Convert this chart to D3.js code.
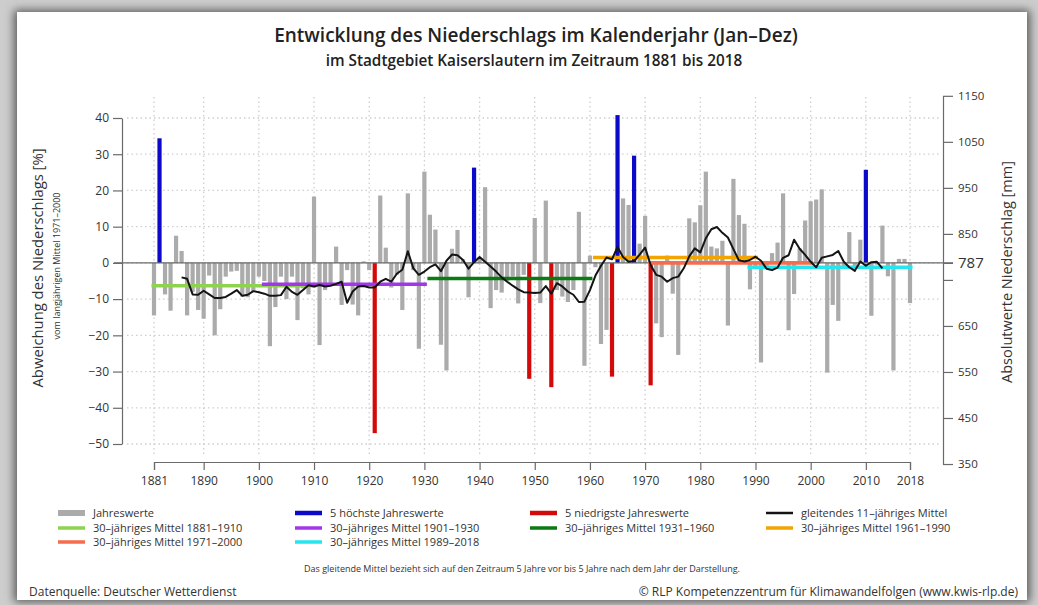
<!DOCTYPE html>
<html><head><meta charset="utf-8">
<script src="https://cdn.jsdelivr.net/npm/d3@7"></script>
<style>
body{margin:0;background:#fff;}
svg{display:block;font-family:'Open Sans',sans-serif;}
</style>
</head><body>
<svg id="chart" width="1038" height="605"></svg>
<script>
// ---------------- DATA ----------------
const firstYear = 1881, lastYear = 2018;
const years = d3.range(firstYear, lastYear + 1);

// Abweichung vom Mittel 1971-2000 [%], 1881..2018
const deviation = [
  -14.5, 34.4, -8.7, -13.2, 7.5, 3.3, -14.5, -8, -13, -15.4,
  -3.5, -20, -12.8, -3.8, -2.4, -2.2, -9.3, -9.5, -8, -3.8,
  -5, -23, -12.2, -3.8, -10, -3.8, -15.8, -7, -8.7, 18.3,
  -22.7, -7.5, -6, 4.5, -11.6, -2, -11.5, -14.5, 0.4, -2,
  -47, 18.6, 4.2, -6.8, -3.3, -13, 19.2, -2, -23.7, 25.2,
  13.3, 9.2, -22.6, -29.7, 3.9, 9.1, 1, -9.5, 26.3, 1.5,
  20.9, -12.5, -7.5, -8.2, -5, -3.8, -11.2, -3.3, -32, 12.4,
  -11.1, 17.2, -34.3, -7.5, -9.3, -10.8, -7.5, 14.1, -28.4, 2,
  -1.2, -22.4, -18.5, -31.4, 40.8, 17.8, 16, 29.6, 5.3, 13,
  -33.8, -16.7, -20.5, 2, -8.5, -25.4, 0.5, 12.3, 11.2, 15.9,
  25.2, 4.5, 4, 6.1, -17.3, 23.2, 13.2, 10.8, -7.3, -1,
  -27.5, -1.5, 2.7, 5.6, 19.2, -18.6, -8.6, 4, 11.7, 17,
  17.5, 20.3, -30.3, -11.6, -16, -1, 8.5, -1.5, 6.4, 25.7,
  -14.6, -0.5, 10.3, -3.7, -29.7, 1.1, 1.1, -11.1
];

const highestYears = [1882, 1939, 1965, 1968, 2010];
const lowestYears  = [1921, 1949, 1953, 1964, 1971];

// gleitendes 11-jähriges Mittel, 1886..2013
const maStart = 1886;
const movingAvg = [
  -4.0, -4.4, -8.7, -8.8, -7.7, -8.7, -9.7, -9.7, -9.4, -8.5,
  -7.5, -9.1, -8.8, -7.8, -8.1, -8.5, -9.1, -9.1, -8.9, -6.6,
  -8.0, -8.8, -7.5, -6.2, -6.5, -6.1, -6.5, -6.3, -5.8, -5.2,
  -11.0, -7.9, -6.5, -6.4, -6.8, -6.8, -5.2, -4.4, -5.2, -3.0,
  -1.9, 3.2, -1.5, -3.3, -2.4, -1.2, -0.4, -2.3, 0.6, 2.3,
  2.1, 0.8, -1.6, 0.2, 1.6, 0.3, -1.0, -2.4, -4.0, -5.2,
  -6.3, -7.3, -8.1, -8.2, -8.3, -8.2, -6.4, -8.5, -5.6, -6.5,
  -7.9, -8.8, -10.8, -10.7, -7.5, -3.5, -0.8, 1.5, 1.0, 4.4,
  1.6, 0.3, 0.5, 2.3, 4.2, -0.6, -3.3, -3.8, -5.2, -4.2,
  -3.8, -1.5, 1.8, 4.0, 2.9, 6.8, 9.3, 9.9, 8.3, 7.0,
  3.8, 0.7, 0.4, 0.8, 1.7, 0.6, -1.6, -2.0, -1.3, 1.4,
  2.1, 6.4, 3.9, 2.2, 0.3, -1.2, 1.4, 1.8, 2.2, 3.3,
  0.3, -1.2, -2.2, 0.4, -0.8, 0.2, 0.3, -1.5
];

// 30-jährige Mittel
const periodStart = [1881, 1901, 1931, 1961, 1971, 1989];
const periodEnd   = [1910, 1930, 1960, 1990, 2000, 2018];
const periodMean  = [-6.3, -5.9, -4.3, 1.5, 0, -1.2];

const xTickYears = [1881, 1890, 1900, 1910, 1920, 1930, 1940, 1950, 1960, 1970, 1980, 1990, 2000, 2010, 2018];
const leftTicks  = [40, 30, 20, 10, 0, -10, -20, -30, -40, -50];
const rightTicks = [1150, 1050, 950, 850, 787, 750, 650, 550, 450, 350];
const refMeanMM = 787;

// ---------------- STYLE ----------------
const periodColors = ["#8ed34e", "#a236ea", "#0b7a12", "#f2a400", "#f46d4e", "#25e6ef"];
const greyBar = "#ababab", blueBar = "#0a0ac8", redBar = "#d30a0a";

const svg = d3.select("#chart");

// background / card
const defs = svg.append("defs");
const f = defs.append("filter").attr("id", "sh").attr("x", "-5%").attr("y", "-5%").attr("width", "110%").attr("height", "110%");
f.append("feGaussianBlur").attr("stdDeviation", 5);
svg.append("rect").attr("width", 1038).attr("height", 605).attr("fill", "#cdcdcd");
svg.append("rect").attr("x", 14).attr("y", 10).attr("width", 1016).attr("height", 592).attr("fill", "#5a5a5a").attr("filter", "url(#sh)");
svg.append("rect").attr("x", 17).attr("y", 12).attr("width", 1010).attr("height", 588).attr("fill", "#fff");

// scales
const x = d3.scaleLinear().domain([firstYear, lastYear]).range([154, 910]);
const y = d3.scaleLinear().domain([-50, 40]).range([444, 118]);
const pct = v => (v / refMeanMM - 1) * 100;
const yR = d3.scaleLinear().domain([350, 1150]).range([y(pct(350)), y(pct(1150))]);

// grid
const grid = svg.append("g").attr("stroke", "#cfcfcf").attr("stroke-width", 1.3).attr("stroke-dasharray", "1.5,3");
grid.selectAll("line.h").data(leftTicks).join("line")
  .attr("x1", 127).attr("x2", 940).attr("y1", d => y(d)).attr("y2", d => y(d));
grid.selectAll("line.v").data(xTickYears).join("line")
  .attr("x1", d => x(d)).attr("x2", d => x(d)).attr("y1", 97).attr("y2", 457);

// bars
const barData = years.map((yr, i) => ({ yr, v: deviation[i] }));
svg.append("g").selectAll("rect").data(barData).join("rect")
  .attr("x", d => x(d.yr) - 2.1)
  .attr("width", 4.2)
  .attr("y", d => y(Math.max(0, d.v)))
  .attr("height", d => Math.abs(y(d.v) - y(0)))
  .attr("fill", d => highestYears.includes(d.yr) ? blueBar : lowestYears.includes(d.yr) ? redBar : greyBar);

// zero line
svg.append("line").attr("x1", 114).attr("x2", 953).attr("y1", y(0)).attr("y2", y(0))
  .attr("stroke", "#6a6a6a").attr("stroke-width", 1.2);

// period means
svg.append("g").selectAll("line").data(periodStart).join("line")
  .attr("x1", (d, i) => x(periodStart[i]) - 2.5)
  .attr("x2", (d, i) => x(periodEnd[i]) + 2.5)
  .attr("y1", (d, i) => y(periodMean[i]))
  .attr("y2", (d, i) => y(periodMean[i]))
  .attr("stroke", (d, i) => periodColors[i])
  .attr("stroke-width", 3.6);

// moving average
const maData = movingAvg.map((v, i) => ({ yr: maStart + i, v }));
svg.append("path").datum(maData)
  .attr("d", d3.line().x(d => x(d.yr)).y(d => y(d.v)))
  .attr("fill", "none").attr("stroke", "#141414").attr("stroke-width", 2).attr("stroke-linejoin", "round");

// axes
const axisStyle = g => {
  g.selectAll(".domain").attr("stroke", "#6a6a6a").attr("stroke-width", 1.2);
  g.selectAll(".tick line").attr("stroke", "#6a6a6a").attr("stroke-width", 1.2);
  g.selectAll(".tick text").attr("fill", "#333").style("font-family", "'Open Sans',sans-serif");
};

const fmtMinus = d => (d < 0 ? "\u2212" + Math.abs(d) : String(d));
svg.append("g").attr("transform", "translate(122,0)")
  .call(d3.axisLeft(y).tickValues(leftTicks).tickFormat(fmtMinus).tickSize(9).tickSizeOuter(0).tickPadding(4))
  .call(axisStyle)
  .call(g => g.selectAll(".tick text").attr("font-size", 12));

svg.append("g").attr("transform", "translate(0,462)")
  .call(d3.axisBottom(x).tickValues(xTickYears).tickFormat(d3.format("d")).tickSize(8).tickSizeOuter(8).tickPadding(6))
  .call(axisStyle)
  .call(g => g.selectAll(".tick text").attr("font-size", 12));

svg.append("g").attr("transform", "translate(943,0)")
  .call(d3.axisRight(yR).tickValues(rightTicks).tickFormat(d => d === 750 ? "" : String(d)).tickSize(10).tickSizeOuter(0).tickPadding(5))
  .call(axisStyle)
  .call(g => g.selectAll(".tick text").attr("font-size", d => d === 787 ? 15 : 11.5));

// axis titles
svg.append("text").attr("transform", "translate(43,268) rotate(-90)")
  .attr("text-anchor", "middle").attr("font-size", 14.8).attr("fill", "#333")
  .text("Abweichung des Niederschlags [%]");
svg.append("text").attr("transform", "translate(60,266) rotate(-90)")
  .attr("text-anchor", "middle").attr("font-size", 9).attr("fill", "#333")
  .text("vom langjährigen Mittel 1971–2000");
svg.append("text").attr("transform", "translate(1012,272) rotate(-90)")
  .attr("text-anchor", "middle").attr("font-size", 14.5).attr("fill", "#333")
  .text("Absolutwerte Niederschlag [mm]");

// titles
svg.append("text").attr("x", 536).attr("y", 42).attr("text-anchor", "middle")
  .attr("font-size", 19).attr("font-weight", 600).attr("fill", "#222")
  .text("Entwicklung des Niederschlags im Kalenderjahr (Jan–Dez)");
svg.append("text").attr("x", 534).attr("y", 66).attr("text-anchor", "middle")
  .attr("font-size", 15.3).attr("font-weight", 600).attr("fill", "#222")
  .text("im Stadtgebiet Kaiserslautern im Zeitraum 1881 bis 2018");

// legend
const legendLabels = [
  "Jahreswerte", "5 höchste Jahreswerte", "5 niedrigste Jahreswerte", "gleitendes 11–jähriges Mittel",
  "30–jähriges Mittel 1881–1910", "30–jähriges Mittel 1901–1930", "30–jähriges Mittel 1931–1960", "30–jähriges Mittel 1961–1990",
  "30–jähriges Mittel 1971–2000", "30–jähriges Mittel 1989–2018"
];
const legendColors = [greyBar, blueBar, redBar, "#141414", ...periodColors];
const legendWidths = [6, 4.5, 4.5, 2.5, 3.5, 3.5, 3.5, 3.5, 3.5, 3.5];
const colX = [58, 295, 530, 766];
const rowY = [513, 528, 542];
const lg = svg.append("g");
legendLabels.forEach((t, i) => {
  const c = i % 4, r = Math.floor(i / 4);
  lg.append("line").attr("x1", colX[c]).attr("x2", colX[c] + 27).attr("y1", rowY[r]).attr("y2", rowY[r])
    .attr("stroke", legendColors[i]).attr("stroke-width", legendWidths[i]);
  lg.append("text").attr("x", colX[c] + 35).attr("y", rowY[r] + 4).attr("font-size", 11).attr("fill", "#333").text(t);
});

svg.append("text").attr("x", 522).attr("y", 572).attr("text-anchor", "middle")
  .attr("font-size", 9).attr("fill", "#333")
  .text("Das gleitende Mittel bezieht sich auf den Zeitraum 5 Jahre vor bis 5 Jahre nach dem Jahr der Darstellung.");

svg.append("text").attr("x", 29).attr("y", 596).attr("font-size", 12).attr("fill", "#333")
  .text("Datenquelle: Deutscher Wetterdienst");
svg.append("text").attr("x", 1018).attr("y", 596).attr("text-anchor", "end").attr("font-size", 12).attr("fill", "#333")
  .text("© RLP Kompetenzzentrum für Klimawandelfolgen (www.kwis-rlp.de)");
</script>
</body></html>
